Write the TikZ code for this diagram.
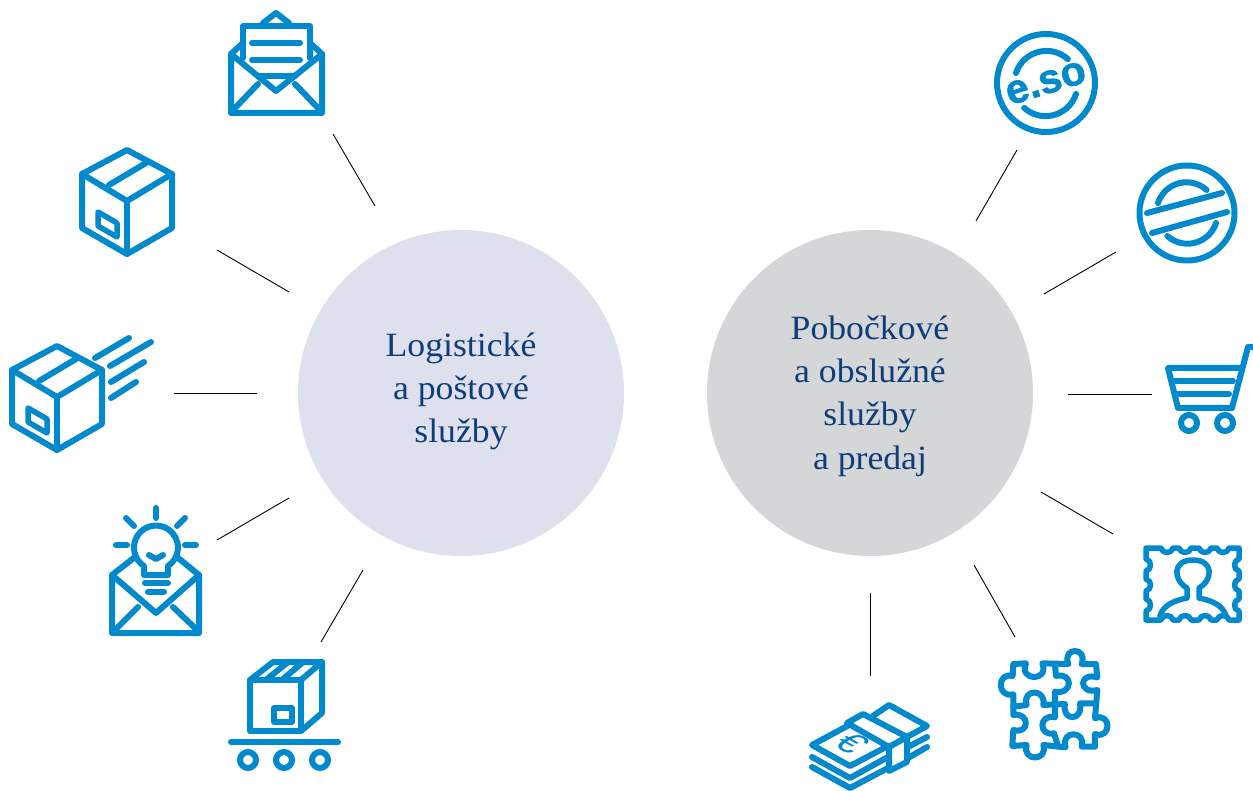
\documentclass[tikz,border=0pt]{standalone}
\usepackage{fontspec}
\setmainfont[FakeStretch=1.05]{Liberation Serif}
\newfontfamily\iconfont[FakeBold=1.6]{Liberation Sans Bold}
\newfontfamily\eurofont{Liberation Sans}
\usetikzlibrary{positioning}
\definecolor{iconblue}{HTML}{008ACD}
\definecolor{textblue}{HTML}{0D3D7A}
\definecolor{hubblue}{HTML}{DFE0EE}
\definecolor{hubgray}{HTML}{D5D6D8}
\tikzset{hub/.style=
   {circle,
    minimum size=326pt,
    inner sep=0pt,
    text=textblue,
    align=center,
    font=\fontsize{34}{43.3}\selectfont}}
\tikzset{spoke/.style = {draw, black, line width=0.9pt}}
\tikzset{icon/.style = {draw=iconblue, line width=6pt, line cap=round, line join=round}}
\tikzset{boxicon/.pic = {
    \draw [icon] (0,-51) -- (45,-27) -- (45,27) -- (0,53) -- (-45,27) -- (-45,-27) -- cycle;
    \draw [icon] (-45,-27) -- (0,0) -- (45,-27);
    \draw [icon] (0,0) -- (0,53);
    \draw [icon] (-18,-16) -- (19,-38);
    \draw [icon, line width=5.5pt] (-29,11) -- (-10,22) -- (-10,36) -- (-29,25) -- cycle;
}}

\begin{document}
\begin{tikzpicture}[x=1pt, y=-1pt]
    \useasboundingbox (0,0) rectangle (1253,791);

    % Hubs
    \node [hub, fill=hubblue, text depth=11pt] (logi) at (461,393) {Logistické\\a poštové\\služby};
    \node [hub, fill=hubgray, text depth=1pt, right of=logi, node distance=409pt] (pobo) {Pobočkové\\a obslužné\\služby\\a predaj};

    % Spoke ends
    \coordinate (mailout) at (333,134);
    \coordinate (mailin) at (375,206);
    \coordinate (boxout) at (217,250);
    \coordinate (boxin) at (289,292);
    \coordinate (flyout) at (174,393);
    \coordinate (flyin) at (257,393);
    \coordinate (bulbout) at (217,540);
    \coordinate (bulbin) at (289,498);
    \coordinate (beltout) at (321,642);
    \coordinate (beltin) at (363,570);
    \coordinate (esoout) at (1017,150);
    \coordinate (esoin) at (976,221);
    \coordinate (sealout) at (1116,252);
    \coordinate (sealin) at (1044,294);
    \coordinate (cartout) at (1152,394);
    \coordinate (cartin) at (1068,394);
    \coordinate (stampout) at (1113,534);
    \coordinate (stampin) at (1041,492);
    \coordinate (puzzleout) at (1015,637);
    \coordinate (puzzlein) at (974,565);
    \coordinate (cashout) at (870,676);
    \coordinate (cashin) at (870,593);

    % Draw edges
    \path [spoke] (mailin) -- (mailout);
    \path [spoke] (boxin) -- (boxout);
    \path [spoke] (flyin) -- (flyout);
    \path [spoke] (bulbin) -- (bulbout);
    \path [spoke] (beltin) -- (beltout);
    \path [spoke] (esoin) -- (esoout);
    \path [spoke] (sealin) -- (sealout);
    \path [spoke] (cartin) -- (cartout);
    \path [spoke] (stampin) -- (stampout);
    \path [spoke] (puzzlein) -- (puzzleout);
    \path [spoke] (cashin) -- (cashout);

    % Open letter
    \draw [icon] (243,43) -- (231,54) -- (231,113) -- (322,113) -- (322,54) -- (310,43);
    \draw [icon] (231,54) -- (276,91) -- (322,54);
    \draw [icon] (243,58) -- (243,26) -- (310,26) -- (310,58);
    \draw [icon] (263,23) -- (276,13) -- (289,23);
    \draw [icon] (252,43) -- (300,43);
    \draw [icon] (252,60) -- (300,60);
    \draw [icon] (258,76) -- (295,76);
    \draw [icon] (235,108) -- (258,84);
    \draw [icon] (295,84) -- (318,108);

    % Boxes
    \pic at (127,201) {boxicon};
    \pic at (57,397) {boxicon};
    \draw [icon] (95,358) -- (129,338);
    \draw [icon] (110,366) -- (151,342);
    \draw [icon] (111,382) -- (144,362);
    \draw [icon] (111,398) -- (136,382);

    % Letter with bulb
    \draw [icon] (135,557) -- (112,575) -- (112,633) -- (199,633) -- (199,575) -- (177,557);
    \draw [icon] (112,575) -- (156,613) -- (199,575);
    \draw [icon] (117,628) -- (138,607);
    \draw [icon] (173,607) -- (195,628);
    \draw [icon] (144,566) arc [start angle=123, end angle=417, radius=22] -- (168,575) -- (144,575) -- cycle;
    \draw [icon] (149,555) -- (156,559) -- (163,555);
    \draw [icon] (145,583) -- (168,583);
    \draw [icon] (148,592) -- (164,592);
    \draw [icon] (156,508) -- (156,518);
    \draw [icon] (126,518) -- (134,526);
    \draw [icon] (185,518) -- (177,526);
    \draw [icon] (116,545) -- (127,545);
    \draw [icon] (185,545) -- (196,545);

    % Box on belt
    \draw [icon] (250,680) rectangle (301,731);
    \draw [icon] (250,680) -- (273,662) -- (322,662) -- (301,680);
    \draw [icon] (322,662) -- (322,713) -- (301,731);
    \draw [icon] (267,679) -- (287,663);
    \draw [icon] (283,679) -- (302,663);
    \draw [icon, line width=5.5pt] (274,708) rectangle (292,722);
    \draw [icon] (231,742) -- (338,742);
    \draw [icon] (248,760) circle [radius=8];
    \draw [icon] (284,760) circle [radius=8];
    \draw [icon] (320,760) circle [radius=8];

    % e.so badge
    \draw [icon] (1046,83) circle [radius=49];
    \draw [icon] (1016,73) arc [start angle=198, end angle=312, radius=32];
    \draw [icon] (1076,94) arc [start angle=18, end angle=132, radius=32];
    \node [text=iconblue, rotate=17, inner sep=0pt, font=\iconfont\fontsize{41}{41}\selectfont] (esotext) at (1046,83) {e.so};

    % Empty badge
    \draw [icon] (1187,213) circle [radius=47.5];
    \draw [icon] (1158,203) arc [start angle=198, end angle=312, radius=30];
    \draw [icon] (1216,223) arc [start angle=18, end angle=132, radius=30];
    \draw [icon] (1147,213) -- (1222,193);
    \draw [icon] (1152,233) -- (1227,212);

    % Cart
    \draw [icon] (1253,347) -- (1248,347) -- (1232,408) -- (1178,408) -- (1168,368) -- (1242,368);
    \draw [icon] (1174,381) -- (1233,381);
    \draw [icon] (1175,394) -- (1229,394);
    \draw [icon] (1189,423) circle [radius=8];
    \draw [icon] (1225,423) circle [radius=8];

    % Stamp
    \draw [icon, line width=5.5pt] (1146,548)
      \foreach \x in {1167,1185,1205,1223} { -- (\x-6,548) .. controls (\x-5,554) and (\x+5,554) .. (\x+6,548) }
      -- (1239,548)
      \foreach \y in {565,585,605} { -- (1239,\y-6) .. controls (1233,\y-5) and (1233,\y+5) .. (1239,\y+6) }
      -- (1239,620)
      \foreach \x in {1223,1205,1185,1167} { -- (\x+6,620) .. controls (\x+5,614) and (\x-5,614) .. (\x-6,620) }
      -- (1146,620)
      \foreach \y in {605,585,565} { -- (1146,\y+6) .. controls (1152,\y+5) and (1152,\y-5) .. (1146,\y-6) }
      -- cycle;
    \draw [icon, line width=5.5pt] (1160,616) .. controls (1163,606) and (1172,601) .. (1187,598) -- (1187,588)
      .. controls (1173,580) and (1172,560) .. (1193,560) .. controls (1214,560) and (1213,580) .. (1199,588)
      -- (1199,598) .. controls (1214,601) and (1223,606) .. (1226,616);

    % Puzzle
    \begin{scope}[shift={(800,640)}, x=0.3333pt, y=-0.3333pt]
      \draw [icon] (640,72) -- (678,70) .. controls (655,125) and (750,125) .. (727,70)
        -- (805,72) .. controls (785,20) and (865,20) .. (845,72)
        -- (888,72) -- (892,112) .. controls (835,95) and (835,165) .. (892,150)
        -- (885,235) .. controls (935,215) and (935,300) .. (885,282)
        -- (885,320) -- (845,320) .. controls (860,270) and (780,270) .. (797,322)
        -- (730,315) .. controls (745,365) and (665,365) .. (680,315)
        -- (637,318) -- (640,270) .. controls (690,285) and (690,215) .. (640,225)
        -- (640,163) .. controls (590,175) and (590,95) .. (638,108) -- cycle;
      \draw [icon] (765,72) -- (768,108) .. controls (820,95) and (820,165) .. (765,155)
        -- (765,232) .. controls (715,220) and (715,290) .. (762,280) -- (775,320);
      \draw [icon] (640,200) -- (680,195) .. controls (665,145) and (740,145) .. (730,195)
        -- (795,192) .. controls (785,245) and (850,245) .. (840,190) -- (885,190);
    \end{scope}

    % Banknotes
    \draw [icon] (851,724) -- (812,745) -- (850,766) -- (888,746);
    \draw [icon] (812,757) -- (850,778) -- (888,757);
    \draw [icon] (812,767) -- (850,788) -- (888,768);
    \draw [icon] (847,723) -- (863,714) -- (907,737) -- (889,747) -- cycle;
    \draw [icon] (889,747) -- (889,771) -- (907,762) -- (907,737);
    \draw [icon] (873,716) -- (889,705) -- (927,726) -- (907,737);
    \draw [icon] (908,747) -- (927,737);
    \draw [icon] (908,758) -- (927,747);
    \node [text=iconblue, cm={0.87,-0.5,0.87,0.5,(0,0)}, inner sep=0pt, font=\eurofont\fontsize{38}{38}\selectfont] (euro) at (852,743) {€};

\end{tikzpicture}
\end{document}
